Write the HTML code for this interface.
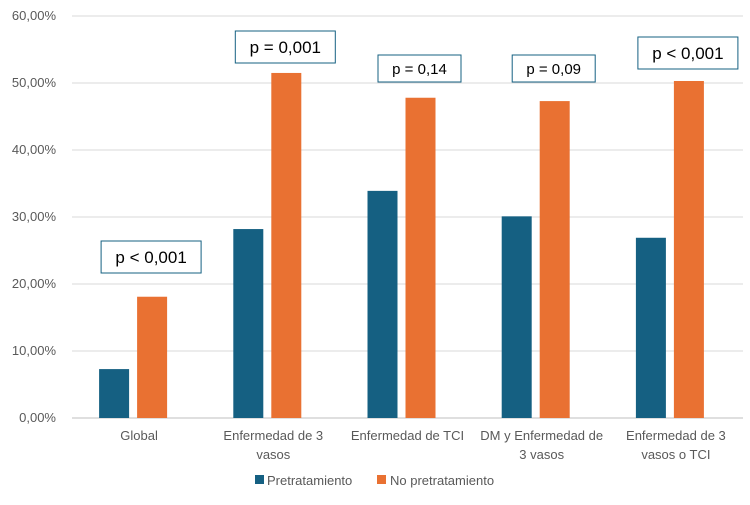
<!DOCTYPE html>
<html><head><meta charset="utf-8"><style>
body{margin:0;background:#fff;font-family:"Liberation Sans",sans-serif}
</style></head><body>
<svg id="chart" width="750" height="500" xmlns="http://www.w3.org/2000/svg"></svg>
<script>
const categories=[["Global"],["Enfermedad de 3","vasos"],["Enfermedad de TCI"],["DM y Enfermedad de","3 vasos"],["Enfermedad de 3","vasos o TCI"]];
const pretratamiento=[7.3,28.2,33.9,30.1,26.9];
const noPretratamiento=[18.1,51.5,47.8,47.3,50.3];
const pLabels=["p < 0,001","p = 0,001","p = 0,14","p = 0,09","p < 0,001"];
const pBoxTops=[241,31,55,55,37];
const yTicks=[0,10,20,30,40,50,60];
const NS="http://www.w3.org/2000/svg";
const svg=document.getElementById('chart');
const x0=72,x1=743,yBase=418,yTop=16,yMax=60;
const y=v=>yBase-(v/yMax)*(yBase-yTop);
const bw=(x1-x0)/categories.length;
const cx=i=>x0+bw*(i+0.5);
function mk(t,a,txt){const e=document.createElementNS(NS,t);for(const k in a)e.setAttribute(k,a[k]);if(txt!==undefined)e.textContent=txt;svg.appendChild(e);return e;}
yTicks.forEach(t=>{
 const g=mk('line',{x1:x0,x2:x1,y1:y(t),y2:y(t),stroke:t===0?'#bfbfbf':'#d9d9d9','stroke-width':1});
 
 
 const l=mk('text',{x:x0-16,y:y(t)+4,'text-anchor':'end','font-size':13,fill:'#595959'},t.toFixed(2).replace('.',',')+'%');
 
 
});
categories.forEach((c,i)=>{
 const b1=mk('rect',{x:cx(i)-40,y:y(pretratamiento[i]),width:30,height:yBase-y(pretratamiento[i]),fill:'#156082'});
 
 
 const b2=mk('rect',{x:cx(i)-2,y:y(noPretratamiento[i]),width:30,height:yBase-y(noPretratamiento[i]),fill:'#e97132'});
 
 
 c.forEach((line,j)=>{
  const t=mk('text',{x:cx(i),y:440+j*19,'text-anchor':'middle','font-size':13,fill:'#595959'},line);
  
  
 });
 const w=pLabels[i].length>8?100:83;
 const bx=mk('rect',{x:cx(i)+12-w/2,y:pBoxTops[i],width:w,height:i===2||i===3?27:32,fill:'#fff',stroke:'#156082','stroke-width':1});
 
 
 const pt=mk('text',{x:cx(i)+12,y:pBoxTops[i]+(i===2||i===3?19:22),'text-anchor':'middle','font-size':i===2||i===3?15:17,fill:'#000'},pLabels[i]);
 
 
});
const l1=mk('rect',{x:255,y:475,width:9,height:9,fill:'#156082'});


const lt1=mk('text',{x:267,y:485,'font-size':13,fill:'#595959'},'Pretratamiento');


const l2=mk('rect',{x:377,y:475,width:9,height:9,fill:'#e97132'});


const lt2=mk('text',{x:390,y:485,'font-size':13,fill:'#595959'},'No pretratamiento');


</script>
</body></html>
